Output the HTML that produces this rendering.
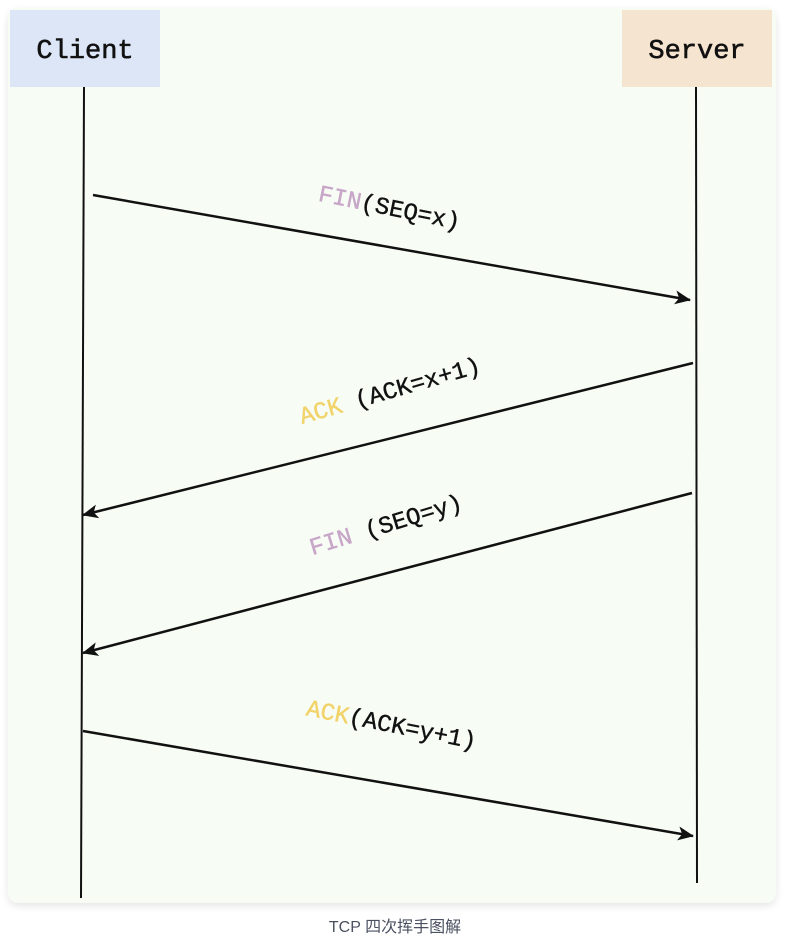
<!DOCTYPE html>
<html><head><meta charset="utf-8"><style>
body{margin:0;background:#fff;width:790px;height:942px;overflow:hidden;font-family:"Liberation Mono",monospace}
#card{position:absolute;left:8px;top:8px;width:768px;height:895px;background:#f7fcf5;border-radius:10px;box-shadow:0 3px 8px rgba(0,0,0,0.10)}
#cap{position:absolute;left:0;width:790px;top:913px;text-align:center;font:16px "Liberation Sans","Noto Sans CJK SC",sans-serif;color:#4a5060}
</style></head><body>
<div id="card"></div>
<svg id="svg" width="790" height="942" style="position:absolute;left:0;top:0">
<rect x="10" y="10" width="150" height="77" fill="#dde6f7"/>
<text x="85" y="58" text-anchor="middle" font-family="Liberation Mono,monospace" font-size="27" stroke="#111" stroke-width="0.6" fill="#111">Client</text>
<rect x="622" y="10" width="150" height="77" fill="#f5e4d0"/>
<text x="697" y="58" text-anchor="middle" font-family="Liberation Mono,monospace" font-size="27" stroke="#111" stroke-width="0.6" fill="#111">Server</text>
<line x1="84" y1="87" x2="81" y2="898" stroke="#111" stroke-width="2"/>
<line x1="696" y1="87" x2="697" y2="883" stroke="#111" stroke-width="2"/>
<defs><marker id="ah" markerWidth="16" markerHeight="14" refX="15" refY="7" orient="auto" markerUnits="userSpaceOnUse" viewBox="0 0 16 14"><path d="M0,0 L16,7 L0,14 L4,7 Z" fill="#111"/></marker></defs>
</svg>
<div id="cap">TCP 四次挥手图解</div>
<script>
const fromX=[93,693,692,83];
const fromY=[195,363,493,731];
const toX=[690,83,83,693];
const toY=[300,515,653,836];
const kinds=["FIN","ACK","FIN","ACK"];
const params=["(SEQ=x)"," (ACK=x+1)"," (SEQ=y)","(ACK=y+1)"];
const labelX=[388,392,388,390];
const labelY=[215,398,532,732];
const svg=document.getElementById('svg');
const NS='http://www.w3.org/2000/svg';
for(let i=0;i<fromX.length;i++){
  const l=document.createElementNS(NS,'line');
  l.setAttribute('x1',fromX[i]);l.setAttribute('y1',fromY[i]);
  l.setAttribute('x2',toX[i]);l.setAttribute('y2',toY[i]);
  l.setAttribute('stroke','#111');l.setAttribute('stroke-width','2.5');
  l.setAttribute('marker-end','url(#ah)');
  
  
  svg.appendChild(l);
  let ang=Math.atan2(toY[i]-fromY[i],toX[i]-fromX[i])*180/Math.PI;
  if(ang>90)ang-=180; if(ang<-90)ang+=180;
  ang*=1.15;
  const t=document.createElementNS(NS,'text');
  t.setAttribute('x',labelX[i]);t.setAttribute('y',labelY[i]);
  t.setAttribute('text-anchor','middle');
  t.setAttribute('font-family','Liberation Mono, monospace');
  t.setAttribute('font-size','24');
  t.setAttribute('stroke-width','0.4');
  t.setAttribute('transform','rotate('+ang.toFixed(2)+' '+labelX[i]+' '+labelY[i]+')');
  
  
  const c=kinds[i]==='FIN'?'#c8a6c8':'#f1d36a';
  const s1=document.createElementNS(NS,'tspan');
  s1.setAttribute('fill',c);
  s1.setAttribute('stroke',c);
  s1.textContent=kinds[i];
  const s2=document.createElementNS(NS,'tspan');
  s2.setAttribute('fill','#111');
  s2.setAttribute('stroke','#111');
  s2.textContent=params[i].replace(' ','\u00a0');
  t.appendChild(s1);t.appendChild(s2);
  svg.appendChild(t);
}
</script>
</body></html>
